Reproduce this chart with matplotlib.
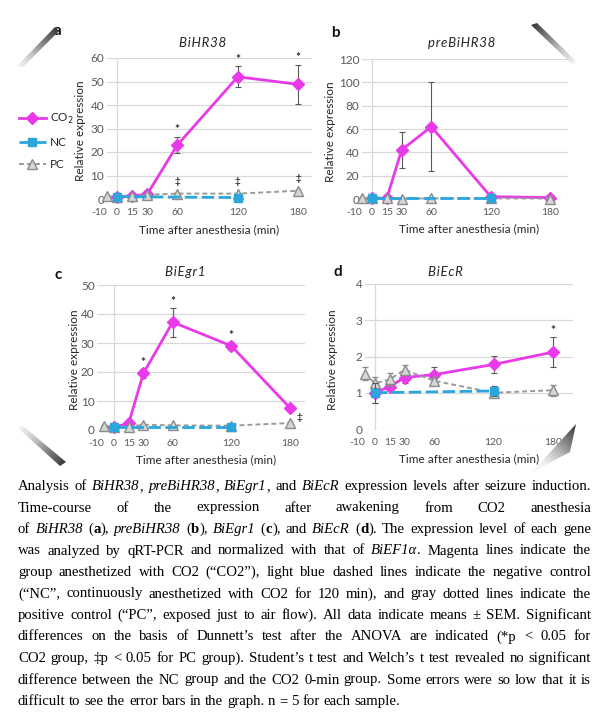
import matplotlib
matplotlib.use('Agg')
import numpy as np
import matplotlib.pyplot as plt
from matplotlib.lines import Line2D
from matplotlib.collections import LineCollection
from matplotlib.patches import Polygon

W, H = 608, 719

# time points (min)
x_co2 = [0, 15, 30, 60, 120, 180]
x_nc = [0, 120]
x_pc = [-10, 0, 15, 30, 60, 120, 180]
x_ticks = [-10, 0, 15, 30, 60, 120, 180]
x_ticklabels = ['-10', '0', '15', '30', '60', '120', '180']

# a: BiHR38
a_co2 = [1.0, 1.3, 2.0, 23.0, 52.0, 48.8]
a_co2_err = [0.3, 0.3, 0.5, 3.5, 4.5, 8.3]
a_nc = [1.0, 0.6]
a_nc_err = [0.2, 0.3]
a_pc = [1.2, 1.0, 1.2, 1.8, 2.3, 2.3, 3.5]
a_pc_err = [0.2, 0.2, 0.2, 0.3, 0.4, 0.4, 0.5]

# b: preBiHR38
b_co2 = [1.0, 0.5, 42.0, 62.0, 2.0, 1.2]
b_co2_err = [0.3, 0.2, 15.5, 38.0, 0.5, 0.4]
b_nc = [1.0, 1.0]
b_nc_err = [0.2, 0.2]
b_pc = [0.6, 0.5, 0.5, 0.4, 0.5, 0.5, 0.4]
b_pc_err = [0.1, 0.1, 0.1, 0.1, 0.1, 0.1, 0.1]

# c: BiEgr1
c_co2 = [1.0, 2.3, 19.5, 37.2, 29.0, 7.6]
c_co2_err = [0.2, 0.4, 1.5, 5.0, 1.3, 0.8]
c_nc = [1.0, 1.0]
c_nc_err = [0.3, 0.8]
c_pc = [1.5, 1.0, 1.2, 1.8, 1.6, 1.5, 2.4]
c_pc_err = [0.2, 0.2, 0.2, 0.3, 0.2, 0.2, 0.3]

# d: BiEcR
d_co2 = [1.0, 1.17, 1.42, 1.5, 1.78, 2.12]
d_co2_err = [0.27, 0.08, 0.15, 0.22, 0.23, 0.42]
d_nc = [1.0, 1.05]
d_nc_err = [0.27, 0.15]
d_pc = [1.52, 1.26, 1.37, 1.63, 1.33, 1.0, 1.07]
d_pc_err = [0.18, 0.18, 0.17, 0.13, 0.1, 0.1, 0.15]

magenta = '#E83AE8'
blue = '#2AA6DC'
gray = '#9A9A9A'
grid_c = '#D9D9D9'
txt_c = '#595959'

plt.rcParams['font.family'] = ['Lato', 'DejaVu Sans']
plt.rcParams['axes.unicode_minus'] = False

fig = plt.figure(figsize=(W / 100, H / 100), dpi=100)


def px_axes(l, r, b, t):
    return fig.add_axes([l / W, 1 - b / H, (r - l) / W, (b - t) / H])


def ftext(x, y, s, **kw):
    return fig.text(x / W, 1 - y / H, s, **kw)


def draw_panel(ax, xl, co2, co2_err, nc, nc_err, pc, pc_err, ymax, ystep):
    ax.set_xlim(*xl)
    ax.set_ylim(0, ymax)
    for s in ax.spines.values():
        s.set_visible(False)
    ax.set_xticks(x_ticks, x_ticklabels)
    ax.get_xticklabels()[0].set_ha('right')
    ax.set_yticks(np.arange(0, ymax + ystep / 2, ystep))
    ax.grid(axis='y', color=grid_c, lw=0.9)
    ax.axvline(0, color=grid_c, lw=0.9, zorder=0)
    ax.set_axisbelow(True)
    ax.tick_params(length=0, labelsize=8.5, colors=txt_c)
    ax.tick_params(axis='x', pad=6.5, labelsize=7.5)
    ax.tick_params(axis='y', pad=2)

    groups = [
        (x_co2, co2, co2_err, dict(color=magenta, lw=2, marker='D', ms=6.5,
                                   mfc=magenta, mec=magenta), '#595959', 2),
        (x_pc, pc, pc_err, dict(color=gray, lw=1.4, ls=(0, (2.5, 1.6)), marker='^',
                                ms=6.5, mfc='#D6D6D6', mec='#8C8C8C', mew=1.0), '#8C8C8C', 3),
        (x_nc, nc, nc_err, dict(color=blue, lw=2, ls=(0, (4.5, 1.6)), marker='s',
                                ms=5.5, mfc=blue, mec=blue), '#595959', 4),
    ]
    for xs, ys, es, style, ecol, z in groups:
        ax.errorbar(xs, ys, yerr=es, ecolor=ecol, elinewidth=0.8,
                    capsize=2.5, capthick=0.8, zorder=z, **style)
    for art in ax.get_children():
        if isinstance(art, (Line2D, LineCollection)):
            art.set_clip_on(False)


def mark(ax, xs, ys, idx, sym, dx, dy, size):
    for i in idx:
        ax.annotate(sym, (xs[i], ys[i]), xytext=(dx, dy), textcoords='offset points',
                    ha='center', va='center', fontsize=size, color='#333333',
                    weight='bold', annotation_clip=False)


# panel geometry in pixels: (left, right, bottom, top)
ax_a = px_axes(106.9, 312.3, 199, 58)
ax_b = px_axes(362, 568, 199, 59)
ax_c = px_axes(97.4, 304.7, 430, 285)
ax_d = px_axes(365, 572.6, 429, 284)

draw_panel(ax_a, (-8, 194), a_co2, a_co2_err, a_nc, a_nc_err, a_pc, a_pc_err, 60, 10)
draw_panel(ax_b, (-8, 198), b_co2, b_co2_err, b_nc, b_nc_err, b_pc, b_pc_err, 120, 20)
draw_panel(ax_c, (-17, 195), c_co2, c_co2_err, c_nc, c_nc_err, c_pc, c_pc_err, 50, 10)
draw_panel(ax_d, (-6, 200), d_co2, d_co2_err, d_nc, d_nc_err, d_pc, d_pc_err, 4, 1)

# significance marks: * for CO2, ‡ for PC
a_top = [v + e for v, e in zip(a_co2, a_co2_err)]
c_top = [v + e for v, e in zip(c_co2, c_co2_err)]
d_top = [v + e for v, e in zip(d_co2, d_co2_err)]
mark(ax_a, x_co2, a_top, [3, 4, 5], '*', 0, 5, 8.5)
mark(ax_a, x_pc, a_pc, [4, 5, 6], '‡', 0, 8.5, 7)
mark(ax_c, x_co2, c_top, [2, 3, 4], '*', 0, 4.5, 8.5)
mark(ax_c, x_pc, c_pc, [6], '‡', 7, 4, 7)
mark(ax_d, x_co2, d_top, [5], '*', 0, 4.5, 8.5)

# titles, panel letters, axis labels
titles = ['BiHR38', 'preBiHR38', 'BiEgr1', 'BiEcR']
title_pos = [(203, 43), (462, 43), (185, 272), (445, 272)]
letters = ['a', 'b', 'c', 'd']
letter_pos = [(57, 31), (335, 33), (58, 275), (338, 272)]
ylab_pos = [(80, 131), (330, 132), (75, 360), (333, 360)]
xlab_pos = [(209, 230), (469, 229), (206, 460), (469, 459)]
for i in range(4):
    ftext(*title_pos[i], '\u200a'.join(titles[i]), style='italic', fontsize=9.5,
          color='#262626', ha='center', va='center')
    ftext(*letter_pos[i], letters[i], fontsize=11, weight='bold', color='#111111',
          ha='center', va='center')
    ftext(*ylab_pos[i], 'Relative expression', fontsize=8.5, color='#262626',
          rotation=90, ha='center', va='center')
    ftext(*xlab_pos[i], 'Time after anesthesia (min)', fontsize=8.5, color='#262626',
          ha='center', va='center')

# legend
handles = [
    Line2D([], [], color=magenta, lw=2, marker='D', ms=6, mfc=magenta, mec=magenta),
    Line2D([], [], color=blue, lw=2, ls=(0, (4.5, 1.6)), marker='s', ms=5.5, mfc=blue, mec=blue),
    Line2D([], [], color=gray, lw=1.4, ls=(0, (2.5, 1.6)), marker='^', ms=6.5,
           mfc='#D6D6D6', mec='#8C8C8C'),
]
fig.legend(handles, ['CO$_2$', 'NC', 'PC'], loc='center left',
           bbox_to_anchor=(14 / W, 1 - 141 / H), frameon=False, fontsize=8.5,
           handlelength=2.3, handletextpad=0.35, labelspacing=0.95, borderaxespad=0,
           labelcolor='#262626')

# page-curl shading at the corners of the figure block
over = fig.add_axes([0, 0, 1, 1], zorder=10)
over.patch.set_alpha(0)
over.axis('off')
over.set_autoscale_on(False)
over.set_xlim(0, W)
over.set_ylim(H, 0)
curls = [
    ([(17, 66), (55, 27), (59, 31), (23, 67)], (17, 66), (57, 29)),
    ([(531, 25), (537, 23), (576, 61), (572, 64)], (576, 63), (533, 24)),
    ([(18, 428), (23, 426), (66, 462), (60, 466)], (20, 427), (64, 464)),
    ([(532, 472), (576, 424), (570, 452)], (540, 462), (575, 425)),
]
for pts, p_light, p_dark in curls:
    poly = Polygon(pts, closed=True, fc='none', ec='none')
    over.add_patch(poly)
    px = [p[0] for p in pts]
    py = [p[1] for p in pts]
    gx, gy = np.meshgrid(np.linspace(min(px), max(px), 60), np.linspace(min(py), max(py), 60))
    vx, vy = p_dark[0] - p_light[0], p_dark[1] - p_light[1]
    v = ((gx - p_light[0]) * vx + (gy - p_light[1]) * vy) / (vx * vx + vy * vy)
    im = over.imshow(np.clip(v, 0, 1), extent=(min(px), max(px), max(py), min(py)),
                     origin='upper', cmap='Greys', vmin=-0.15, vmax=1.25,
                     interpolation='bilinear', aspect='auto')
    im.set_clip_path(poly)
over.set_xlim(0, W)
over.set_ylim(H, 0)

# caption: '_' toggles italic, '^' toggles bold
cap_lines = [
    "Analysis of _BiHR38_, _preBiHR38_, _BiEgr1_, and _BiEcR_ expression levels after seizure induction.",
    "Time-course of the expression after awakening from CO2 anesthesia",
    "of _BiHR38_ (^a^), _preBiHR38_ (^b^), _BiEgr1_ (^c^), and _BiEcR_ (^d^). The expression level of each gene",
    "was analyzed by qRT-PCR and normalized with that of _BiEF1α_. Magenta lines indicate the",
    "group anesthetized with CO2 (“CO2”), light blue dashed lines indicate the negative control",
    "(“NC”, continuously anesthetized with CO2 for 120 min), and gray dotted lines indicate the",
    "positive control (“PC”, exposed just to air flow). All data indicate means ± SEM. Significant",
    "differences on the basis of Dunnett’s test after the ANOVA are indicated (*p < 0.05 for",
    "CO2 group, ‡p < 0.05 for PC group). Student’s t test and Welch’s t test revealed no significant",
    "difference between the NC group and the CO2 0-min group. Some errors were so low that it is",
    "difficult to see the error bars in the graph. n = 5 for each sample.",
]
cap_family = ['Liberation Serif', 'DejaVu Serif']
cap_size = 10.6


def parse_word(w):
    runs, cur, it, bd = [], '', False, False
    for ch in w:
        if ch in '_^':
            if cur:
                runs.append((cur, it, bd))
            cur = ''
            if ch == '_':
                it = not it
            else:
                bd = not bd
        else:
            cur += ch
    if cur:
        runs.append((cur, it, bd))
    return runs


renderer = fig.canvas.get_renderer()
probe = fig.text(0, 0, 'a a', family=cap_family, fontsize=cap_size)
probe2 = fig.text(0, 0, 'aa', family=cap_family, fontsize=cap_size)
space_w = probe.get_window_extent(renderer).width - probe2.get_window_extent(renderer).width
probe.remove()
probe2.remove()

x_left, x_right = 18, 591
y_base, dy = 490, 21.5
for k, line in enumerate(cap_lines):
    words = []
    for w in line.split(' '):
        items = []
        for s, it, bd in parse_word(w):
            t = fig.text(0, 0, s, family=cap_family, fontsize=cap_size,
                         style='italic' if it else 'normal',
                         weight='bold' if bd else 'normal', va='baseline', ha='left')
            items.append((t, t.get_window_extent(renderer).width))
        words.append(items)
    total = sum(wd for items in words for _, wd in items)
    if k < len(cap_lines) - 1:
        gap = (x_right - x_left - total) / (len(words) - 1)
    else:
        gap = space_w
    x = x_left
    y = y_base + k * dy
    for items in words:
        for t, wd in items:
            t.set_position((x / W, 1 - y / H))
            x += wd
        x += gap

fig.savefig('out.png', dpi=100)
